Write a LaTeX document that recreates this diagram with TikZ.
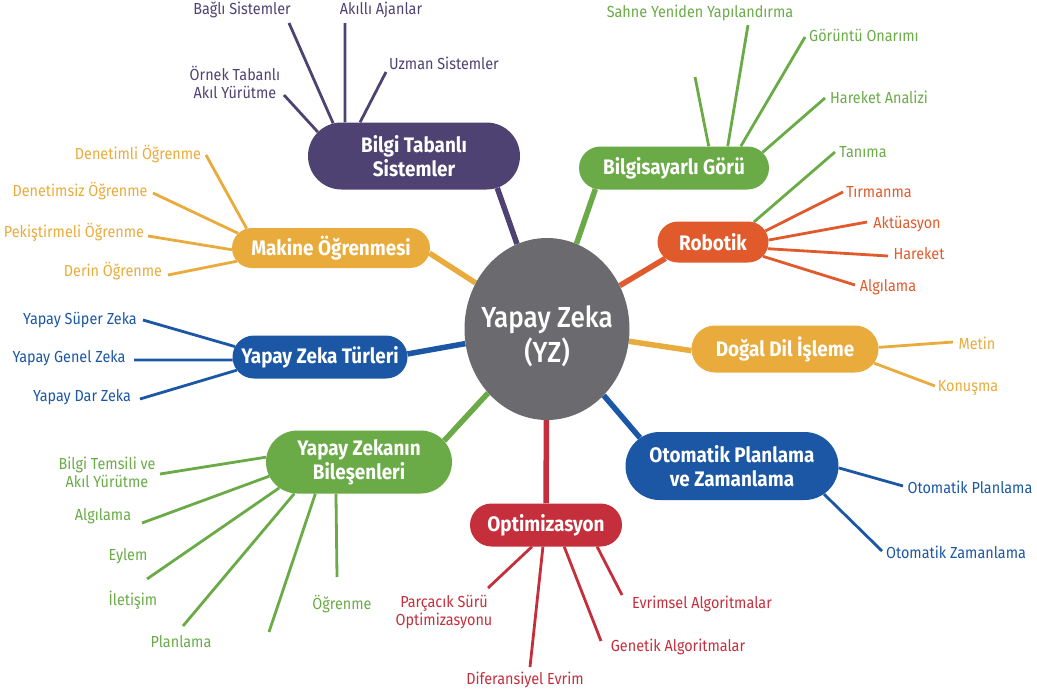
\documentclass[tikz,border=0pt]{standalone}
\usepackage{fontspec}
\setmainfont{Fira Sans}[FakeStretch=0.9]
\newfontfamily\corefont{Fira Sans Medium}[FakeStretch=0.9]
\usetikzlibrary{shapes.misc, shapes.geometric, backgrounds}

\definecolor{kbpurple}{HTML}{4E4272}
\definecolor{mlorange}{HTML}{E9AB3B}
\definecolor{aiblue}{HTML}{1B57A5}
\definecolor{aigreen}{HTML}{6AAB47}
\definecolor{robred}{HTML}{E05A2B}
\definecolor{optred}{HTML}{C52F3C}
\definecolor{coregray}{HTML}{6B6B6F}

\begin{document}
\begin{tikzpicture}[x=1pt, y=-1pt,
    core/.style={ellipse, fill=coregray, minimum width=165pt, minimum height=182pt, inner sep=0pt},
    coretext/.style={text=white, align=center, font=\corefont\fontsize{29}{35}\selectfont},
    topic/.style={rounded rectangle, fill=#1, text=white, align=center, inner sep=0pt,
      font=\fontsize{21}{24}\selectfont\bfseries},
    leaf/.style={text=#1, align=center, inner sep=1pt, font=\fontsize{16}{18}\selectfont},
    trunk/.style={draw=#1, line width=5.5pt},
    twig/.style={draw=#1, line width=2.8pt}]
    \useasboundingbox (0,0) rectangle (1037,694);

    % centre
    \node[core, label={[coretext, yshift=-7pt]center:Yapay Zeka\\(YZ)}] (yz) at (547,329) {};

    % main topics
    \node[topic=kbpurple, minimum width=212pt, minimum height=67pt] (bts) at (414,156) {Bilgi Tabanlı\\Sistemler};
    \node[topic=mlorange, minimum width=198pt, minimum height=40pt] (mo) at (331,248) {Makine Öğrenmesi};
    \node[topic=aiblue, minimum width=175pt, minimum height=43pt] (tur) at (320,357) {Yapay Zeka Türleri};
    \node[topic=aigreen, minimum width=186pt, minimum height=63pt] (bil) at (359,462) {Yapay Zekanın\\Bileşenleri};
    \node[topic=aigreen, minimum width=190pt, minimum height=43pt] (bg) at (674,168) {Bilgisayarlı Görü};
    \node[topic=robred, minimum width=111pt, minimum height=41pt] (rob) at (713,242) {Robotik};
    \node[topic=mlorange, minimum width=187pt, minimum height=47pt] (ddi) at (785,349) {Doğal Dil İşleme};
    \node[topic=aiblue, minimum width=213pt, minimum height=68pt] (opz) at (732,466) {Otomatik Planlama\\ve Zamanlama};
    \node[topic=optred, minimum width=152pt, minimum height=43pt] (opt) at (546,525) {Optimizasyon};

    % leaves
    \node[leaf=kbpurple] (bagli) at (242,10) {Bağlı Sistemler};
    \node[leaf=kbpurple] (akilli) at (381,10) {Akıllı Ajanlar};
    \node[leaf=kbpurple] (uzman) at (444,63) {Uzman Sistemler};
    \node[leaf=kbpurple] (ornek) at (235,82) {Örnek Tabanlı\\Akıl Yürütme};

    \node[leaf=mlorange] (denetimli) at (138,154) {Denetimli Öğrenme};
    \node[leaf=mlorange] (denetimsiz) at (80,191) {Denetimsiz Öğrenme};
    \node[leaf=mlorange] (pekistirme) at (74,232) {Pekiştirmeli Öğrenme};
    \node[leaf=mlorange] (derin) at (113,271) {Derin Öğrenme};

    \node[leaf=aiblue] (super) at (80,320) {Yapay Süper Zeka};
    \node[leaf=aiblue] (genel) at (69,358) {Yapay Genel Zeka};
    \node[leaf=aiblue] (dar) at (82,397) {Yapay Dar Zeka};

    \node[leaf=aigreen] (temsil) at (107,472) {Bilgi Temsili ve\\Akıl Yürütme};
    \node[leaf=aigreen] (algi) at (103,516) {Algılama};
    \node[leaf=aigreen] (eylem) at (128,556) {Eylem};
    \node[leaf=aigreen] (iletisim) at (133,600) {İletişim};
    \node[leaf=aigreen] (planlama) at (181,642) {Planlama};
    \node[leaf=aigreen] (ogrenme) at (342,604) {Öğrenme};

    \node[leaf=aigreen] (sahne) at (700,13) {Sahne Yeniden Yapılandırma};
    \node[leaf=aigreen] (onarim) at (864,35) {Görüntü Onarımı};
    \node[leaf=aigreen] (hareketan) at (879,97) {Hareket Analizi};
    \node[leaf=aigreen] (tanima) at (863,152) {Tanıma};

    \node[leaf=robred] (tirmanma) at (879,192) {Tırmanma};
    \node[leaf=robred] (aktuasyon) at (907,224) {Aktüasyon};
    \node[leaf=robred] (hareket) at (919,254) {Hareket};
    \node[leaf=robred] (robalgi) at (888,287) {Algılama};

    \node[leaf=mlorange] (metin) at (977,343) {Metin};
    \node[leaf=mlorange] (konusma) at (968,388) {Konuşma};

    \node[leaf=aiblue] (otoplan) at (970,487) {Otomatik Planlama};
    \node[leaf=aiblue] (otozaman) at (956,552) {Otomatik Zamanlama};

    \node[leaf=optred] (parcacik) at (444,612) {Parçacık Sürü\\Optimizasyonu};
    \node[leaf=optred] (diferans) at (525,680) {Diferansiyel Evrim};
    \node[leaf=optred] (genetik) at (678,647) {Genetik Algoritmalar};
    \node[leaf=optred] (evrimsel) at (702,604) {Evrimsel Algoritmalar};

    % free ends of the twigs
    \coordinate (bagli-e) at (289,23);
    \coordinate (akilli-e) at (345,23);
    \coordinate (uzman-e) at (386,72);
    \coordinate (ornek-e) at (284,95);
    \coordinate (denetimli-e) at (206,155);
    \coordinate (denetimsiz-e) at (153,193);
    \coordinate (pekistirme-e) at (148,236);
    \coordinate (derin-e) at (168,275);
    \coordinate (super-e) at (143,320);
    \coordinate (genel-e) at (134,360);
    \coordinate (dar-e) at (140,399);
    \coordinate (temsil-e) at (160,474);
    \coordinate (algi-e) at (142,523);
    \coordinate (eylem-e) at (147,579);
    \coordinate (iletisim-e) at (183,626);
    \coordinate (planlama-e) at (269,632);
    \coordinate (ogrenme-e) at (337,577);
    \coordinate (bos-e) at (695,77);
    \coordinate (sahne-e) at (748,25);
    \coordinate (onarim-e) at (805,37);
    \coordinate (hareketan-e) at (825,98);
    \coordinate (tanima-e) at (835,152);
    \coordinate (tirmanma-e) at (843,192);
    \coordinate (aktuasyon-e) at (867,222);
    \coordinate (hareket-e) at (888,256);
    \coordinate (robalgi-e) at (855,285);
    \coordinate (metin-e) at (953,342);
    \coordinate (konusma-e) at (935,386);
    \coordinate (otoplan-e) at (903,486);
    \coordinate (otozaman-e) at (882,551);
    \coordinate (parcacik-e) at (488,588);
    \coordinate (diferans-e) at (530,667);
    \coordinate (genetik-e) at (601,641);
    \coordinate (evrimsel-e) at (622,595);

    \begin{scope}[on background layer]
        % trunks
        \draw[trunk=kbpurple] (yz) -- (bts.-21);
        \draw[trunk=mlorange] (yz) -- (mo.-3);
        \draw[trunk=aiblue] (yz) -- (tur.2);
        \draw[trunk=aigreen] (yz) -- (bil.14);
        \draw[trunk=aigreen] (yz) -- (bg.195);
        \draw[trunk=robred] (yz) -- (rob.199);
        \draw[trunk=mlorange] (yz) -- (ddi.181);
        \draw[trunk=aiblue] (yz) -- (opz.163);
        \draw[trunk=optred] (yz) -- (opt.90);
        % twigs
        \draw[twig=kbpurple] (bts.158) -- (bagli-e);
        \draw[twig=kbpurple] (bts.154) -- (akilli-e);
        \draw[twig=kbpurple] (bts.148) -- (uzman-e);
        \draw[twig=kbpurple] (bts.166) -- (ornek-e);
        \draw[twig=mlorange] (mo.167) -- (denetimli-e);
        \draw[twig=mlorange] (mo.171) -- (denetimsiz-e);
        \draw[twig=mlorange] (mo.181) -- (pekistirme-e);
        \draw[twig=mlorange] (mo.188) -- (derin-e);
        \draw[twig=aiblue] (tur.173) -- (super-e);
        \draw[twig=aiblue] (tur.182) -- (genel-e);
        \draw[twig=aiblue] (tur.189) -- (dar-e);
        \draw[twig=aigreen] (bil.177) -- (temsil-e);
        \draw[twig=aigreen] (bil.189) -- (algi-e);
        \draw[twig=aigreen] (bil.198) -- (eylem-e);
        \draw[twig=aigreen] (bil.206) -- (iletisim-e);
        \draw[twig=aigreen] (bil.216) -- (planlama-e);
        \draw[twig=aigreen] (bil.234) -- (ogrenme-e);
        \draw[twig=aigreen] (bg.32) -- (bos-e);
        \draw[twig=aigreen] (bg.22) -- (sahne-e);
        \draw[twig=aigreen] (bg.18) -- (onarim-e);
        \draw[twig=aigreen] (bg.10) -- (hareketan-e);
        \draw[twig=aigreen] (rob.26) -- (tanima-e);
        \draw[twig=robred] (rob.12) -- (tirmanma-e);
        \draw[twig=robred] (rob.2) -- (aktuasyon-e);
        \draw[twig=robred] (rob.-7) -- (hareket-e);
        \draw[twig=robred] (rob.-16) -- (robalgi-e);
        \draw[twig=mlorange] (ddi.1) -- (metin-e);
        \draw[twig=mlorange] (ddi.-9) -- (konusma-e);
        \draw[twig=aiblue] (opz.-1) -- (otoplan-e);
        \draw[twig=aiblue] (opz.-17) -- (otozaman-e);
        \draw[twig=optred] (opt.237) -- (parcacik-e);
        \draw[twig=optred] (opt.262) -- (diferans-e);
        \draw[twig=optred] (opt.-50) -- (genetik-e);
        \draw[twig=optred] (opt.-23) -- (evrimsel-e);
    \end{scope}
\end{tikzpicture}
\end{document}
